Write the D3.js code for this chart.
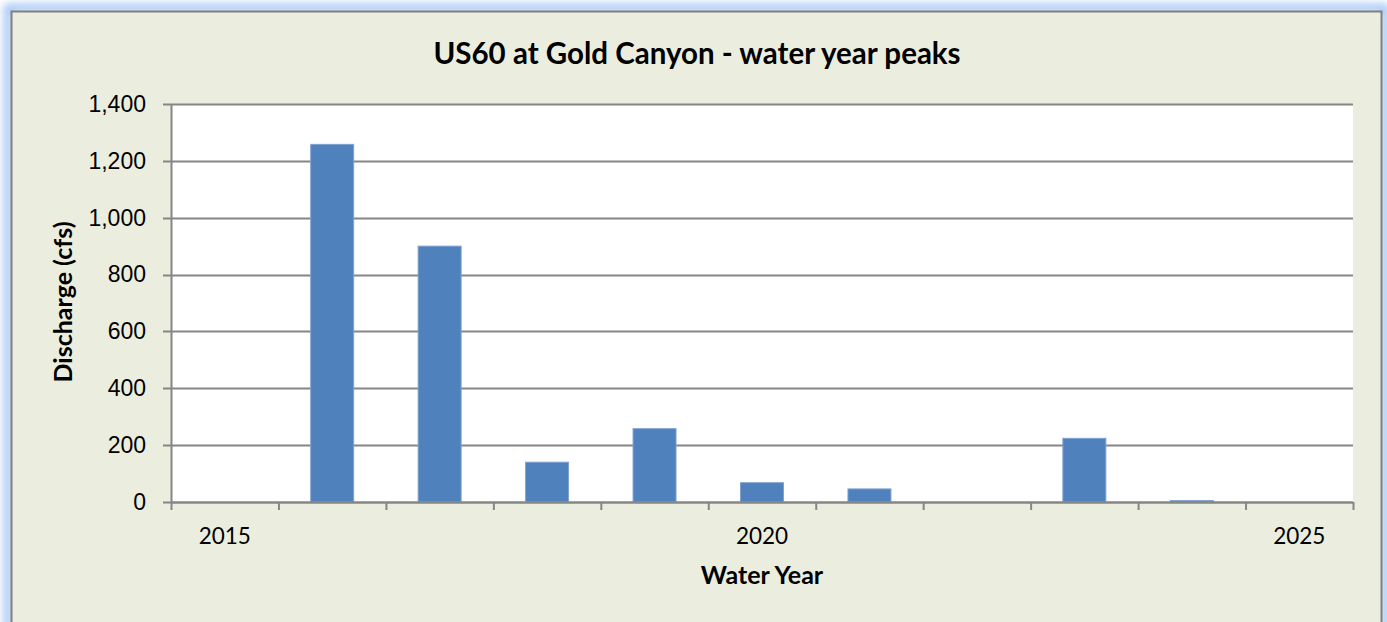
<!DOCTYPE html>
<html>
<head>
<meta charset="utf-8">
<script src="https://cdn.jsdelivr.net/npm/d3@7"></script>
<style>
  body { margin: 0; background: #fff; }
  svg { display: block; font-family: Lato, "Open Sans", sans-serif; }
</style>
</head>
<body>
<div id="chart"></div>
<script>
var w = 1387, h = 622;

// data
var years = ["2015", "2016", "2017", "2018", "2019", "2020", "2021", "2022", "2023", "2024", "2025"];
var peaks = [0, 1258, 900, 140, 258, 68, 46, 0, 224, 5, 0];
var yTicks = [0, 200, 400, 600, 800, 1000, 1200, 1400];
var xLabelYears = ["2015", "2020", "2025"];

var margin = {top: 104, right: 34, bottom: 120, left: 171},
    width = w - margin.left - margin.right,
    height = h - margin.top - margin.bottom;

var svg = d3.select("#chart").append("svg")
    .attr("width", w)
    .attr("height", h);

// outer glow + chart frame
var defs = svg.append("defs");
var blur = defs.append("filter").attr("id", "glow")
    .attr("x", "-5%").attr("y", "-5%").attr("width", "110%").attr("height", "110%");
blur.append("feGaussianBlur").attr("stdDeviation", 4);

svg.append("rect")
    .attr("x", 8).attr("y", 8)
    .attr("width", 1377).attr("height", 640)
    .attr("fill", "none")
    .attr("stroke", "#9fc3f5")
    .attr("stroke-width", 8)
    .attr("filter", "url(#glow)");

svg.append("rect")
    .attr("x", 11.5).attr("y", 11.5)
    .attr("width", 1370).attr("height", 640)
    .attr("fill", "#ebeedf")
    .attr("stroke", "#7f7f7f")
    .attr("stroke-width", 2);

var x = d3.scaleBand().domain(years).range([0, width]).paddingInner(0.6).paddingOuter(0.3);
var xb = d3.scaleBand().domain(years).range([0, width]);
var y = d3.scaleLinear().domain([0, 1400]).range([height, 0]);

var g = svg.append("g")
    .attr("transform", "translate(" + margin.left + "," + margin.top + ")");

g.append("rect")
    .attr("width", width).attr("height", height)
    .attr("fill", "#fff");

// gridlines
g.selectAll(".grid")
    .data(yTicks)
    .enter().append("line")
    .attr("class", "grid")
    .attr("x1", -8).attr("x2", width)
    .attr("y1", function(d) { return Math.round(y(d)) + 0.5; })
    .attr("y2", function(d) { return Math.round(y(d)) + 0.5; })
    .attr("stroke", "#868686")
    .attr("stroke-width", 2);

// y axis
var yAxis = g.append("g")
    .call(d3.axisLeft(y).tickValues(yTicks).tickSize(0).tickPadding(25).tickFormat(d3.format(",")));
yAxis.select(".domain").remove();
yAxis.selectAll("text").attr("font-size", 23).attr("fill", "#000");

g.append("line")
    .attr("x1", 0.5).attr("x2", 0.5)
    .attr("y1", 0).attr("y2", height)
    .attr("stroke", "#868686").attr("stroke-width", 2);

// bars
g.selectAll(".bar")
    .data(years)
    .enter().append("rect")
    .attr("class", "bar")
    .attr("x", function(d) { return x(d); })
    .attr("width", x.bandwidth())
    .attr("y", function(d, i) { return y(peaks[i]); })
    .attr("height", function(d, i) { return height - y(peaks[i]); })
    .attr("fill", "#4f81bd")
    .attr("stroke", "#7fa2d0")
    .attr("stroke-width", 1);

// x axis: ticks at band edges, labels every fifth year
var xAxis = g.append("g")
    .attr("transform", "translate(0," + height + ")");
xAxis.append("line")
    .attr("x1", 0).attr("x2", width)
    .attr("y1", 0.5).attr("y2", 0.5)
    .attr("stroke", "#868686").attr("stroke-width", 2);
var edges = years.map(function(d) { return xb(d); }).concat([width]);
xAxis.selectAll(".tick")
    .data(edges)
    .enter().append("line")
    .attr("x1", function(d) { return d + 0.5; })
    .attr("x2", function(d) { return d + 0.5; })
    .attr("y1", 0).attr("y2", 8)
    .attr("stroke", "#868686").attr("stroke-width", 2);
xAxis.selectAll(".lbl")
    .data(xLabelYears)
    .enter().append("text")
    .attr("x", function(d) { return xb(d) + xb.bandwidth() / 2; })
    .attr("y", 42)
    .attr("text-anchor", "middle")
    .attr("font-size", 22.5)
    .text(function(d) { return d; });

// titles
svg.append("text")
    .attr("x", 697).attr("y", 64)
    .attr("text-anchor", "middle")
    .attr("font-size", 29.5).attr("font-weight", "bold")
    .text("US60 at Gold Canyon - water year peaks");

svg.append("text")
    .attr("x", 762).attr("y", 584)
    .attr("text-anchor", "middle")
    .attr("font-size", 25).attr("font-weight", "bold")
    .text("Water Year");

svg.append("text")
    .attr("transform", "translate(72,302) rotate(-90)")
    .attr("text-anchor", "middle")
    .attr("font-size", 25).attr("font-weight", "bold")
    .text("Discharge (cfs)");
</script>
</body>
</html>
